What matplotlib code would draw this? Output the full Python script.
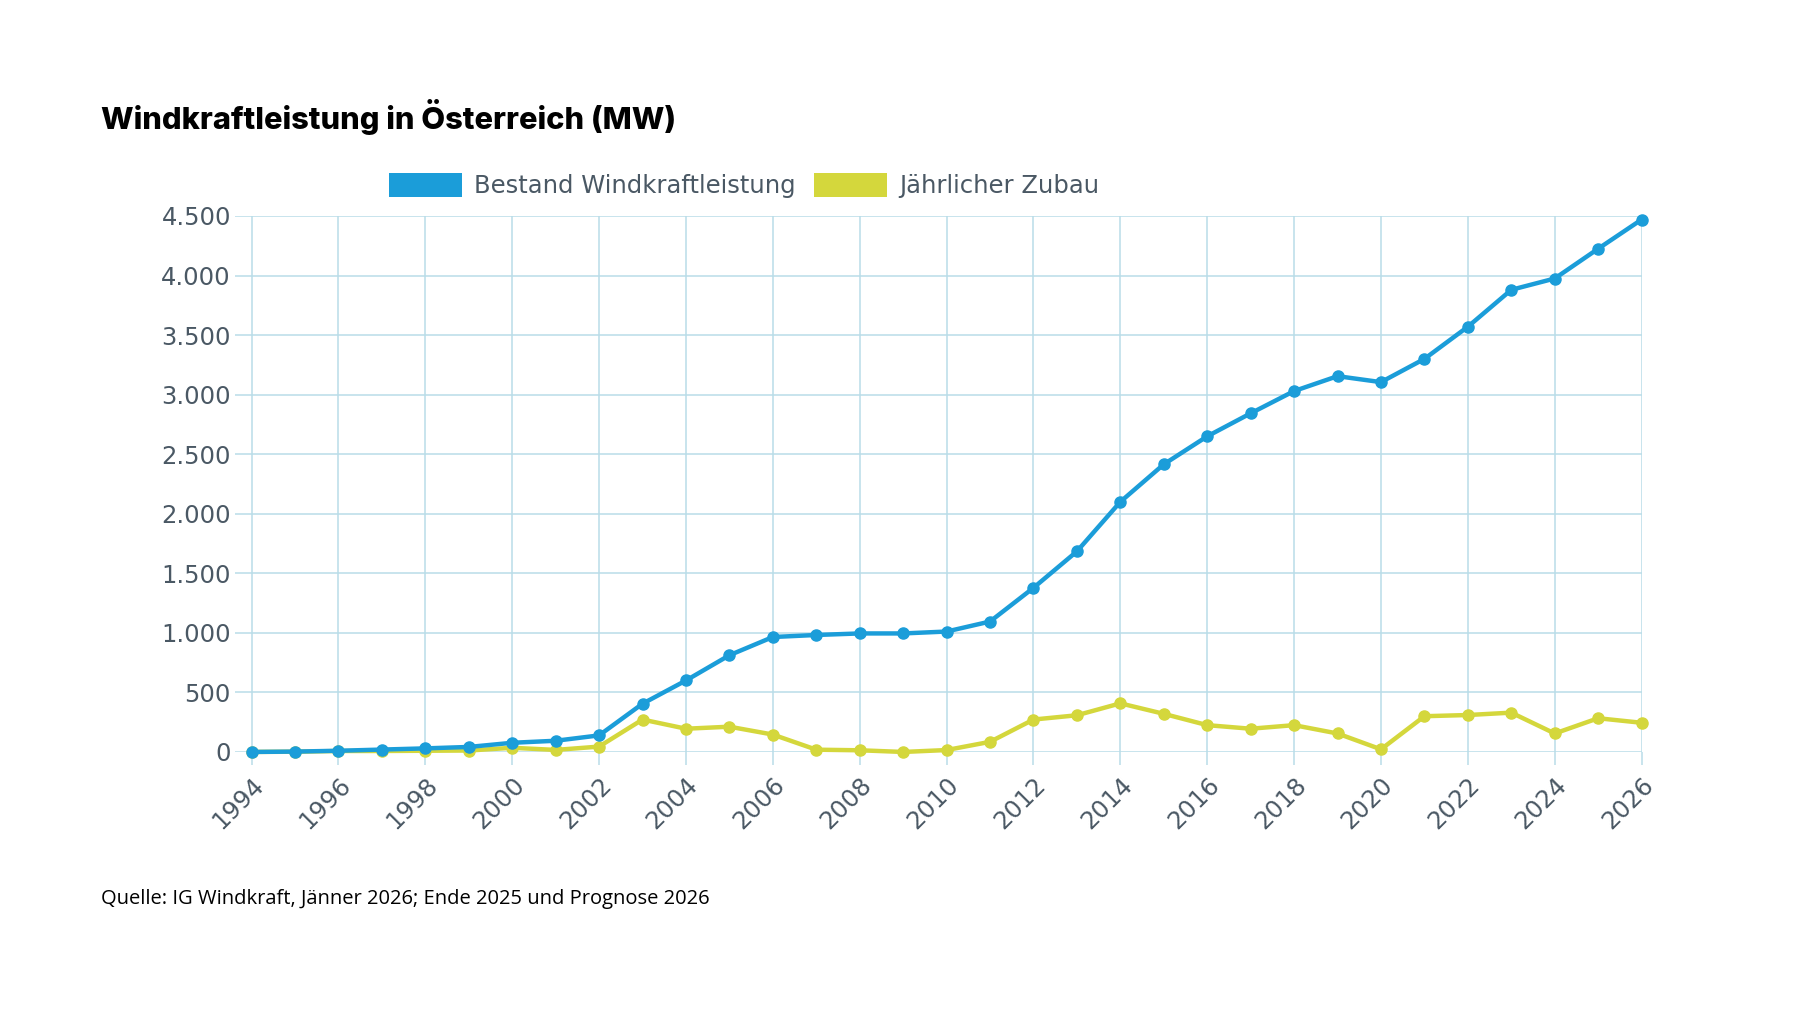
import numpy as np
import matplotlib
matplotlib.use("Agg")
from matplotlib import pyplot as plt
from matplotlib.patches import Patch

#~~ data (MW)
years = list(range(1994, 2027))
bestand = [0, 3, 10, 20, 30, 42, 77, 94, 139, 405, 600, 812, 965, 982, 995, 995, 1011,
           1095, 1378, 1684, 2100, 2415, 2650, 2843, 3030, 3155, 3105, 3300, 3570, 3880,
           3975, 4225, 4470]
zubau = [0, 2, 8, 8, 10, 12, 35, 17, 45, 272, 195, 212, 146, 19, 14, 0, 16,
         85, 272, 308, 408, 320, 225, 195, 225, 155, 22, 300, 310, 330,
         155, 283, 245]
xticks = list(range(1994, 2027, 2))
yticks = list(range(0, 4501, 500))
ytick_labels = ['0', '500', '1.000', '1.500', '2.000', '2.500', '3.000', '3.500', '4.000', '4.500']

title = 'Windkraftleistung in Österreich (MW)'
source = 'Quelle: IG Windkraft, Jänner 2026; Ende 2025 und Prognose 2026'
labels = ['Bestand Windkraftleistung', 'Jährlicher Zubau']

#~~ styles
blue = '#1b9dd9'
yellow = '#d4d73c'
grid_col = '#b9dde8'
text_col = '#4a5864'
font = 'DejaVu Sans'
fsize = 17.5

fig = plt.figure(figsize=(18, 10.13), dpi=100)
ax = fig.add_axes([0.1306, 0.2577, 0.9120 - 0.1306, 0.7868 - 0.2577])

ax.plot(years, zubau, color=yellow, lw=3.2, marker='o', ms=8, clip_on=False, zorder=3)
ax.plot(years, bestand, color=blue, lw=3.2, marker='o', ms=8, clip_on=False, zorder=4)

ax.set_xlim(1993.62, 2026)
ax.set_ylim(0, 4500)
ax.set_xticks(xticks)
ax.set_yticks(yticks)
ax.set_yticklabels(ytick_labels)
ax.set_xticklabels([str(y) for y in xticks], rotation=45, ha='right', va='top',
                   rotation_mode='anchor')

for lbl in ax.get_xticklabels() + ax.get_yticklabels():
    lbl.set_fontfamily(font)
    lbl.set_fontsize(fsize)
    lbl.set_color(text_col)

ax.tick_params(axis='x', length=9, width=1.1, color=grid_col, pad=6)
ax.tick_params(axis='y', length=0, pad=3)

ax.grid(True, color=grid_col, linewidth=1.1)
ax.set_axisbelow(True)
for s in ax.spines.values():
    s.set_visible(False)

#~~ legend
handles = [Patch(facecolor=blue, edgecolor='none'), Patch(facecolor=yellow, edgecolor='none')]
fig.legend(handles, labels, loc='center', bbox_to_anchor=(0.4135, 0.817), ncol=2, frameon=False,
           prop={'family': font, 'size': fsize}, labelcolor=text_col,
           handlelength=3.0, handleheight=1.2, handletextpad=0.5, columnspacing=0.75)

#~~ title and source
fig.text(0.056, 0.873, title, fontsize=22.2, fontweight='heavy', family='Inter', color='black')
fig.text(0.056, 0.1125, source, fontsize=14.5, family='Open Sans', color='black', va='center')

plt.savefig('out.png', dpi=100)
plt.close()
